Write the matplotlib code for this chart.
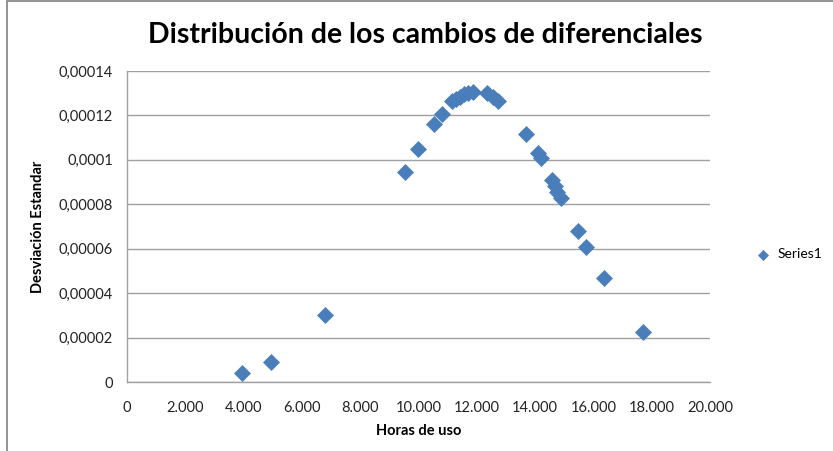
import matplotlib
matplotlib.use('Agg')

import numpy as np
import matplotlib.pyplot as plt
from matplotlib.ticker import FuncFormatter, MultipleLocator
from matplotlib.patches import Rectangle

horas = [3945, 4940, 6792, 9537, 9983, 10532, 10806,
         11149, 11286, 11424, 11561, 11698, 11870,
         12350, 12556, 12727, 13688, 14099, 14202,
         14580, 14683, 14751, 14889, 15472, 15746, 16364, 17702]
desviacion = [0.0000041, 0.0000090, 0.0000302, 0.0000945, 0.0001049, 0.0001161, 0.0001206,
              0.0001265, 0.0001274, 0.0001283, 0.0001296, 0.0001301, 0.0001305,
              0.0001301, 0.0001283, 0.0001265, 0.0001116, 0.0001031, 0.0001008,
              0.0000909, 0.0000882, 0.0000855, 0.0000828, 0.0000680, 0.0000608, 0.0000468, 0.0000225]

color = '#4A7EBB'
plt.rcParams['font.family'] = ['Lato', 'DejaVu Sans']

fig = plt.figure(figsize=(8.33, 4.51), dpi=100)
ax = fig.add_axes([127/833, 1 - 382/451, (710-127)/833, (382-71)/451])

ax.scatter(horas, desviacion, marker='D', s=75, color=color, linewidths=0, zorder=3, label='Series1')

ax.set_xlim(0, 20000)
ax.set_ylim(0, 0.00014)
ax.xaxis.set_major_locator(MultipleLocator(2000))
ax.yaxis.set_major_locator(MultipleLocator(0.00002))


def fmt_x(v, pos):
    return '{:,.0f}'.format(v).replace(',', '.')


def fmt_y(v, pos):
    if abs(v) < 1e-12:
        return '0'
    return ('%.5f' % v).rstrip('0').replace('.', ',')


ax.xaxis.set_major_formatter(FuncFormatter(fmt_x))
ax.yaxis.set_major_formatter(FuncFormatter(fmt_y))
ax.tick_params(length=0, labelsize=10.5, colors='#222222')
ax.tick_params(axis='x', pad=14)
ax.tick_params(axis='y', pad=10)

ax.yaxis.grid(True, color='#A0A0A0', linewidth=1)
ax.set_axisbelow(True)
for s in ['top', 'right']:
    ax.spines[s].set_visible(False)
for s in ['left', 'bottom']:
    ax.spines[s].set_color('#A0A0A0')
    ax.spines[s].set_linewidth(1)

ax.set_xlabel('Horas de uso', fontsize=10.5, fontweight='bold', labelpad=6)
ax.set_ylabel('Desviación Estandar', fontsize=10.5, fontweight='bold', labelpad=10)
fig.suptitle('Distribución de los cambios de diferenciales', x=425/833, y=1 - 22/451,
             fontsize=20.5, fontweight='bold')

leg = ax.legend(loc='center left', bbox_to_anchor=(1.045, 0.41), frameon=False,
                fontsize=10, handletextpad=0.05, markerscale=0.65)

fig.patches.append(Rectangle((7/833, -0.1), 1.2, 1 - 1/451 + 0.1, transform=fig.transFigure,
                             fill=False, edgecolor='#808080', linewidth=1.2))

plt.savefig('out.png', dpi=100)
